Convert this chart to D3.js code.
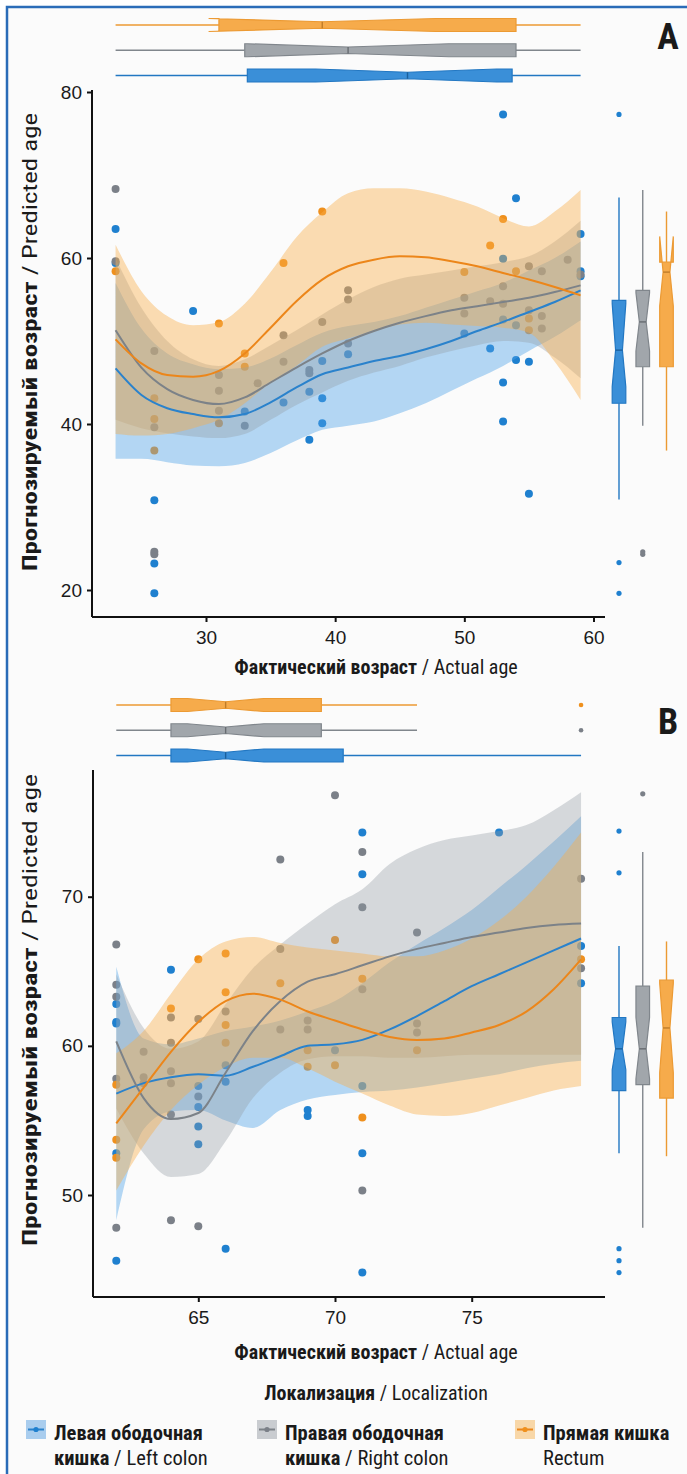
<!DOCTYPE html>
<html><head><meta charset="utf-8">
<script src="https://cdn.jsdelivr.net/npm/d3@7"></script>
<style>
body{margin:0;background:#fff;}
svg{display:block;}
text{font-family:"Liberation Sans Narrow","Roboto Condensed","DejaVu Sans Condensed","Liberation Sans",Arial,sans-serif;font-stretch:condensed;fill:#1a1a1a;}
text.tick{font-family:"Liberation Sans",Arial,sans-serif;font-stretch:normal;}
</style></head><body>
<svg id="c" width="687" height="1474"></svg>
<script>
// ---------- DATA ----------
const groups = ["left","right","rectum"];
const groupLabelRu = ["Левая ободочная","Правая ободочная","Прямая кишка"];
const groupLabelRu2 = ["кишка","кишка",""];
const groupLabelEn = ["Left colon","Right colon","Rectum"];
const axisTitleX = ["Фактический возраст"," / Actual age"];
const axisTitleY = ["Прогнозируемый возраст"," / Predicted age"];
const legendTitle = ["Локализация"," / Localization"];
const ticksAx = [30,40,50,60], ticksAy = [20,40,60,80];
const ticksBx = [65,70,75], ticksBy = [50,60,70];

// Panel A points [actual age, predicted age]
const ptsA_left = [[23,63.5],[23,59.4],[29,53.6],[26,30.8],[26,23.2],[26,19.6],[33,41.5],[36,42.6],[38,43.9],[38,38.1],[39,47.6],[39,43.1],[39,40.1],[41,48.4],[50,50.9],[52,49.1],[53,77.3],[53,59.9],[53,52.6],[53,45],[53,40.3],[54,67.2],[54,51.9],[54,47.7],[55,47.5],[55,31.6],[59,62.9],[59,58.4],[59,57.8]];
const ptsA_right = [[23,68.3],[23,59.6],[26,48.8],[26,39.6],[26,24.6],[26,24.3],[31,45.9],[31,44],[31,41.6],[33,39.8],[34,44.9],[36,50.7],[36,47.5],[38,46.5],[38,46.1],[39,52.3],[41,56.1],[41,55],[41,49.7],[50,55.2],[50,53.3],[52,54.8],[53,56.6],[53,54.5],[55,59],[55,53.7],[56,58.4],[56,53],[56,51.5],[58,59.8],[59,58]];
const ptsA_rectum = [[23,58.4],[26,43.1],[26,40.6],[26,36.8],[31,52.1],[31,40.1],[33,48.5],[33,46.9],[36,59.4],[39,65.6],[50,58.3],[52,61.5],[53,64.7],[54,58.4],[55,51.3],[55,52.7]];

// Panel A smooth fits: age grid, fit, lower, upper
const gridA = [23,25,27,29,31,33,35,37,39,41,43,45,47,49,51,53,55,57,59];
const fitA_rectum = [50.2,47.3,45.9,45.7,46.4,48.5,51.6,54.8,57.4,59,59.8,60.2,60.1,59.6,59,58.2,57.4,56.5,55.5];
const loA_rectum  = [38.8,38.6,38.8,39.5,40.5,42.5,45,47,49.3,50.3,51.2,52,52.2,52,51.8,51.6,51,47.5,42.9];
const hiA_rectum  = [61.6,56,53,51.9,52.3,54.5,58.3,62.5,65.5,67.8,68.4,68.4,68,67.2,66.2,64.8,63.8,65.6,68.2];
const fitA_right = [51.3,46.8,44.2,42.9,42.4,43.2,45,46.8,48.5,50,51.2,52.2,53,53.7,54.2,54.7,55.2,55.9,56.7];
const loA_right  = [40.5,39.5,38.9,38.5,38.3,38.8,40.5,42.3,43.8,45.2,46.2,47,48,48.8,49.5,50,49.8,48,45.5];
const hiA_right  = [60,54,50,47.8,47,47.8,49.5,51.3,53.2,55,56.5,57.5,58,58.5,59,59.5,60.2,62,64.5];
const fitA_left = [46.7,43.5,41.9,41.2,40.8,41.2,42.6,44.4,46,46.8,47.6,48.2,49,50,51.2,52.3,53.5,54.7,56.1];
const loA_left  = [35.8,35.8,35.4,35,34.9,35.3,36.5,38,39.3,39.8,40.3,41.3,42.5,44,45.5,47,48.8,50.5,52.5];
const hiA_left  = [57,51.5,48.5,47.2,46.6,46.8,47.9,49.5,51,51.8,52.3,53,54,55,56,57,58.5,60,62];

// Panel A boxplots: [whiskerLo, q1, median, q3, whiskerHi, notchLo, notchHi]
const boxAx_left = [23,33.2,45.6,53.7,59,38.5,52.5];
const boxAx_right = [23,33,41,54,59,33.2,48.8];
const boxAx_rectum = [23,31,39,54,59,30.2,47.8];
const boxAy_left = [30.9,42.5,48.9,54.9,67.3,44.5,54.5];
const boxAy_right = [39.8,46.9,52.3,56.1,68.2,48.8,55.8];
const boxAy_rectum = [36.8,46.9,58.3,59.5,65.6,54.2,62.6];
const outAy_left = [77.3,23.3,19.6], outAy_right = [24.3,24.6], outAy_rectum = [];
const outAx_left = [], outAx_right = [], outAx_rectum = [];

// Panel B points
const ptsB_left = [[62,62.8],[62,61.6],[62,61.5],[62,52.8],[62,45.6],[64,65.1],[65,57.3],[65,55.9],[65,54.6],[65,53.4],[66,58.7],[66,57.6],[66,46.4],[69,55.7],[69,55.3],[70,59.7],[71,74.3],[71,71.5],[71,57.3],[71,52.8],[71,44.8],[76,74.3],[79,66.7],[79,64.2]];
const ptsB_right = [[62,66.8],[62,64.1],[62,63.3],[62,57.8],[62,47.8],[63,59.6],[63,57.9],[63,57.5],[64,61.9],[64,60.2],[64,58.3],[64,57.5],[64,55.4],[64,48.3],[65,61.8],[65,56.6],[65,47.9],[66,62.3],[68,72.5],[68,66.5],[68,61.1],[69,61.7],[69,61.1],[70,76.8],[71,73],[71,69.3],[71,63.8],[71,50.3],[73,67.6],[73,61.5],[73,60.9],[79,71.2],[79,65.2]];
const ptsB_rectum = [[62,57.4],[62,53.7],[62,52.5],[64,62.5],[65,65.8],[66,66.2],[66,63.6],[66,61.4],[66,60.2],[68,64.2],[69,59.7],[69,58.6],[70,67.1],[70,58.7],[71,64.5],[71,55.2],[73,59.7],[79,65.8]];

const gridB = [62,63,64,65,66,67,68,69,70,71,72,73,74,75,76,77,78,79];
const fitB_rectum = [54.8,57.2,59.6,61.6,63,63.5,63.1,62.3,61.7,61.1,60.6,60.4,60.5,60.9,61.4,62.3,63.8,65.8];
const loB_rectum  = [50.3,53.3,55.7,57.4,58.6,59.2,59.2,58.5,57.6,56.8,56,55.4,55.3,55.5,56,56.5,57,57.3];
const hiB_rectum  = [59.5,61,63.5,65.8,67,67.3,66.9,66.6,66.4,66.2,66,66,66.4,67.2,68.4,70,72,74.3];
const fitB_right = [60.3,56.5,55.1,55.5,58.2,61,63,64.3,64.8,65.4,66,66.5,66.9,67.3,67.6,67.9,68.1,68.2];
const loB_right  = [55.8,52.8,51.2,51.4,53.6,56.5,58.2,59.1,59.3,59.3,59.2,59.2,59.3,59.4,59.4,59.4,59.4,59.4];
const hiB_right  = [64.8,61.2,59.8,60.3,62.8,65.2,66.8,68.2,69.5,70.5,72.2,73.2,73.8,74.1,74.4,74.8,75.8,77];
const fitB_left = [56.8,57.5,57.9,58.1,58,58.6,59.3,60,60.1,60.4,61.1,62,63,64,64.8,65.6,66.4,67.2];
const loB_left  = [48.3,54.4,55.6,55.7,55,54.5,55.7,56.4,56.7,56.9,57,57.2,57.5,57.8,58.1,58.5,58.8,59];
const hiB_left  = [65.3,60.5,60.1,60.5,61,61.3,61.7,62.3,63,64.2,65.6,66.8,67.9,69.1,70.6,72.1,73.7,75.4];

const boxBx_left = [62,64,66,70.3,79,64.6,67.4];
const boxBx_right = [62,64,66,69.5,73,64.6,67.4];
const boxBx_rectum = [62,64,66,69.5,73,64.6,67.4];
const outBx_left = [], outBx_right = [79], outBx_rectum = [79];
const boxBy_left = [52.8,57,59.8,61.9,66.7,58.4,61.6];
const boxBy_right = [47.8,57.4,59.8,64,73,57.8,61.9];
const boxBy_rectum = [52.6,56.5,61.2,64.4,67,58.2,64.2];
const outBy_left = [74.4,71.6,46.4,45.6,44.8], outBy_right = [76.9], outBy_rectum = [];

// ---------- STYLE ----------
const ptColor = {left:"#1f80cf", right:"#7b8088", rectum:"#ef901d"};
const lineColor = {left:"#2a82cc", right:"#7c8288", rectum:"#ec861a"};
const bandColor = {left:"#4ea3e8", right:"#939ba3", rectum:"#f7ad4a"};
const bandOp = {left:0.42, right:0.36, rectum:0.42};
const boxFill = {left:"#3a8fd8", right:"#a1a6ab", rectum:"#f6ab4b"};
const boxStroke = {left:"#2277c2", right:"#80868c", rectum:"#ec9a33"};

const svg = d3.select("#c");
svg.append("rect").attr("x",0).attr("y",0).attr("width",687).attr("height",1474).attr("fill","#fff");
svg.append("rect").attr("x",8).attr("y",8).attr("width",679).attr("height",1466).attr("fill","#fbfbfb");
svg.append("path").attr("d","M7,1474V7H687").attr("fill","none").attr("stroke","#2a6cb8").attr("stroke-width",2.5);

function notchBox(g, st, vertical, pos, hw, sc, key, outs, outR){
  const [lo,q1,med,q3,hi,nlo,nhi] = st;
  const P = vertical ? (a,v)=>[a, sc(v)] : (a,v)=>[sc(v), a];
  const pts = [P(pos-hw,q1),P(pos-hw,nlo),P(pos-hw/2,med),P(pos-hw,nhi),P(pos-hw,q3),
               P(pos+hw,q3),P(pos+hw,nhi),P(pos+hw/2,med),P(pos+hw,nlo),P(pos+hw,q1)];
  const ln = d3.line();
  g.append("path").attr("d", ln([P(pos,lo),P(pos,q1)])).attr("stroke",boxStroke[key]).attr("stroke-width",1.4);
  g.append("path").attr("d", ln([P(pos,q3),P(pos,hi)])).attr("stroke",boxStroke[key]).attr("stroke-width",1.4);
  g.append("path").attr("d", ln(pts)+"Z").attr("fill",boxFill[key]).attr("stroke",boxStroke[key]).attr("stroke-width",1.2);
  g.append("path").attr("d", ln([P(pos-hw/2,med),P(pos+hw/2,med)])).attr("stroke",d3.color(boxStroke[key]).darker(0.6)).attr("stroke-width",1.4);
  outs.forEach(v=>{ const p=P(pos,v); g.append("circle").attr("cx",p[0]).attr("cy",p[1]).attr("r",outR).attr("fill",ptColor[key]); });
}

function panel(cfg){
  const g = svg.append("g");
  const x = d3.scaleLinear().domain(cfg.xDom).range(cfg.xRng);
  const y = d3.scaleLinear().domain(cfg.yDom).range(cfg.yRng);
  groups.forEach(k=>{
    g.append("g").selectAll("circle").data(cfg.pts[k]).join("circle")
      .attr("cx",d=>x(d[0])).attr("cy",d=>y(d[1])).attr("r",4).attr("fill",ptColor[k]);
  });
  ["left","right","rectum"].forEach(k=>{
    const area = d3.area().curve(d3.curveMonotoneX)
      .x((d,i)=>x(cfg.grid[i])).y0((d,i)=>y(cfg.lo[k][i])).y1((d,i)=>y(cfg.hi[k][i]));
    g.append("path").attr("d",area(cfg.grid)).attr("fill",bandColor[k]).attr("fill-opacity",bandOp[k]);
  });
  ["left","right","rectum"].forEach(k=>{
    const line = d3.line().curve(d3.curveMonotoneX).x((d,i)=>x(cfg.grid[i])).y((d,i)=>y(cfg.fit[k][i]));
    g.append("path").attr("d",line(cfg.grid)).attr("fill","none").attr("stroke",lineColor[k]).attr("stroke-width",2);
  });
  const ax = g.append("g").attr("transform",`translate(0,${cfg.axisY})`)
    .call(d3.axisBottom(x).tickValues(cfg.xt).tickSize(5).tickSizeOuter(0));
  ax.select(".domain").remove();
  ax.append("line").attr("x1",cfg.axisX).attr("x2",cfg.xEnd).attr("stroke","#111").attr("stroke-width",2);
  ax.selectAll(".tick line").attr("stroke","#111").attr("stroke-width",2);
  ax.selectAll(".tick text").attr("class","tick").attr("font-size",19).attr("dy","1.0em").attr("fill","#222");
  const ay = g.append("g").attr("transform",`translate(${cfg.axisX},0)`)
    .call(d3.axisLeft(y).tickValues(cfg.yt).tickSize(5).tickSizeOuter(0));
  ay.select(".domain").remove();
  ay.append("line").attr("y1",cfg.yTop).attr("y2",cfg.axisY).attr("stroke","#111").attr("stroke-width",2);
  ay.selectAll(".tick line").attr("stroke","#111").attr("stroke-width",2);
  ay.selectAll(".tick text").attr("class","tick").attr("font-size",19).attr("x",-10).attr("fill","#222");
  const tb = d3.scalePoint().domain(["rectum","right","left"]).range(cfg.topRange);
  groups.forEach(k=> notchBox(g, cfg.boxX[k], false, tb(k), 6.5, x, k, cfg.outX[k], 2.3));
  const rb = d3.scalePoint().domain(groups).range([619,666.5]);
  groups.forEach(k=> notchBox(g, cfg.boxY[k], true, rb(k), 6.8, y, k, cfg.outY[k], 2.6));
  const tx = g.append("text").attr("x",376).attr("y",cfg.xTitleY).attr("text-anchor","middle").attr("font-size",20);
  tx.append("tspan").attr("font-weight","bold").text(axisTitleX[0]);
  tx.append("tspan").text(axisTitleX[1]);
  const ty = g.append("text").attr("transform",`translate(37,${cfg.yTitleC}) rotate(-90)`).attr("text-anchor","middle").attr("font-size",21)
    .attr("textLength",cfg.yTitleLen).attr("lengthAdjust","spacingAndGlyphs");
  ty.append("tspan").attr("font-weight","bold").text(axisTitleY[0]);
  ty.append("tspan").text(axisTitleY[1]);
  g.append("text").attr("x",668).attr("y",cfg.letterY).attr("text-anchor","middle").attr("font-size",36).attr("font-weight","bold").text(cfg.letter);
}

panel({xDom:[30,60], xRng:[206,593.5], yDom:[20,80], yRng:[590,92], grid:gridA,
  pts:{left:ptsA_left,right:ptsA_right,rectum:ptsA_rectum},
  fit:{left:fitA_left,right:fitA_right,rectum:fitA_rectum},
  lo:{left:loA_left,right:loA_right,rectum:loA_rectum},
  hi:{left:hiA_left,right:hiA_right,rectum:hiA_rectum},
  xt:ticksAx, yt:ticksAy, axisY:617, axisX:92, xEnd:605, yTop:90,
  topRange:[25,75.5],
  boxX:{left:boxAx_left,right:boxAx_right,rectum:boxAx_rectum},
  outX:{left:outAx_left,right:outAx_right,rectum:outAx_rectum},
  boxY:{left:boxAy_left,right:boxAy_right,rectum:boxAy_rectum},
  outY:{left:outAy_left,right:outAy_right,rectum:outAy_rectum},
  xTitleY:674, yTitleC:342, yTitleLen:458, letter:"A", letterY:49});

panel({xDom:[65,75], xRng:[198.3,471.7], yDom:[50,70], yRng:[1195,896.7], grid:gridB,
  pts:{left:ptsB_left,right:ptsB_right,rectum:ptsB_rectum},
  fit:{left:fitB_left,right:fitB_right,rectum:fitB_rectum},
  lo:{left:loB_left,right:loB_right,rectum:loB_rectum},
  hi:{left:hiB_left,right:hiB_right,rectum:hiB_rectum},
  xt:ticksBx, yt:ticksBy, axisY:1297, axisX:93, xEnd:605, yTop:770,
  topRange:[705,755.5],
  boxX:{left:boxBx_left,right:boxBx_right,rectum:boxBx_rectum},
  outX:{left:outBx_left,right:outBx_right,rectum:outBx_rectum},
  boxY:{left:boxBy_left,right:boxBy_right,rectum:boxBy_rectum},
  outY:{left:outBy_left,right:outBy_right,rectum:outBy_rectum},
  xTitleY:1359, yTitleC:1010, yTitleLen:472, letter:"B", letterY:734});

const lt = svg.append("text").attr("x",376).attr("y",1400).attr("text-anchor","middle").attr("font-size",20);
lt.append("tspan").attr("font-weight","bold").text(legendTitle[0]);
lt.append("tspan").text(legendTitle[1]);
const keyX = d3.scaleOrdinal().domain(groups).range([26,257,515]);
const keyBg = {left:"#a9cdee", right:"#c9ccd0", rectum:"#f8d7a8"};
groups.forEach((k,i)=>{
  const kx = keyX(k);
  svg.append("rect").attr("x",kx).attr("y",1420).attr("width",20).attr("height",19).attr("fill",keyBg[k]);
  svg.append("line").attr("x1",kx+2).attr("x2",kx+18).attr("y1",1429.5).attr("y2",1429.5).attr("stroke",lineColor[k]).attr("stroke-width",2);
  svg.append("circle").attr("cx",kx+10).attr("cy",1429.5).attr("r",2.6).attr("fill",ptColor[k]);
  const t1 = svg.append("text").attr("x",kx+28).attr("y",1440).attr("font-size",20.5).attr("font-weight","bold").text(groupLabelRu[i]);
  const t2 = svg.append("text").attr("x",kx+28).attr("y",1465).attr("font-size",20.5);
  if(groupLabelRu2[i]){ t2.append("tspan").attr("font-weight","bold").text(groupLabelRu2[i]); t2.append("tspan").text(" / "+groupLabelEn[i]); }
  else t2.text(groupLabelEn[i]);
});
</script></body></html>
